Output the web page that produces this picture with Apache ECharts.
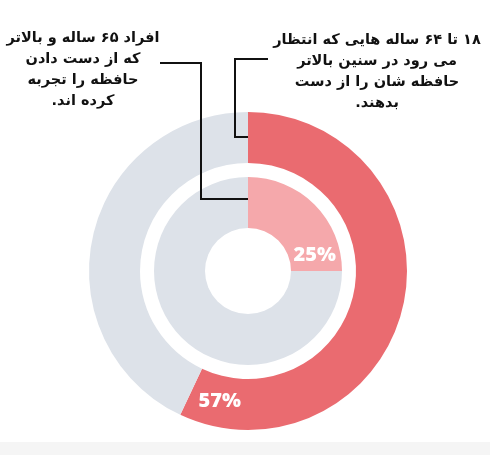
<!DOCTYPE html>
<html>
<head>
<meta charset="utf-8">
<script src="https://cdn.jsdelivr.net/npm/echarts@6/dist/echarts.min.js"></script>
<style>
  html, body { margin: 0; padding: 0; background: #fff; }
  #chart { width: 490px; height: 455px; }
</style>
</head>
<body>
<div id="chart" dir="rtl"></div>
<script>
// outer ring: 18-64 year olds expecting memory loss, inner ring: 65+ who experienced it
const outerLabels = ['۱۸ تا ۶۴ ساله', 'سایر'];
const outerValues = [57, 43];
const innerLabels = ['۶۵ ساله و بالاتر', 'سایر'];
const innerValues = [25, 75];

const rightNote = [
  '۱۸ تا ۶۴ ساله هایی که انتظار',
  'می رود در سنین بالاتر',
  'حافظه شان را از دست',
  'بدهند.'
];
const leftNote = [
  'افراد ۶۵ ساله و بالاتر',
  'که از دست دادن',
  'حافظه را تجربه',
  'کرده اند.'
];

const cx = 248, cy = 271;
const outerR = [108, 159];
const innerR = [43, 94];
const RED = '#ea6b70', PINK = '#f5a8ab', GRAY = '#dde2e9';
const noteFont = 'bold 14.5px "DejaVu Sans", sans-serif';

const chart = echarts.init(document.getElementById('chart'));

// percentage label placed a little before the end of the coloured slice
function pctLabel(values, r) {
  const total = values.reduce((a, b) => a + b, 0);
  const share = values[0] / total;
  const a = (share * 360 - 13) * Math.PI / 180;
  const rm = (r[0] + r[1]) / 2;
  return {
    type: 'text',
    x: cx + rm * Math.sin(a),
    y: cy - rm * Math.cos(a),
    style: {
      text: Math.round(share * 100) + '%',
      fill: '#fff',
      font: '800 20px "Open Sans", sans-serif',
      align: 'center',
      verticalAlign: 'middle'
    },
    z: 10
  };
}

function note(lines, x, y) {
  return lines.map((t, i) => ({
    type: 'text',
    x: x,
    y: y + i * 21,
    style: {
      text: t,
      fill: '#111',
      font: noteFont,
      align: 'center',
      verticalAlign: 'middle'
    }
  }));
}

const lineStyle = { stroke: '#111', lineWidth: 2, fill: null };

const option = {
  backgroundColor: '#fff',
  animation: false,
  series: [
    {
      type: 'pie',
      center: [cx, cy],
      radius: outerR,
      startAngle: 90,
      clockwise: true,
      silent: true,
      label: { show: false },
      labelLine: { show: false },
      data: outerValues.map((v, i) => ({
        name: outerLabels[i], value: v,
        itemStyle: { color: i === 0 ? RED : GRAY }
      }))
    },
    {
      type: 'pie',
      center: [cx, cy],
      radius: innerR,
      startAngle: 90,
      clockwise: true,
      silent: true,
      label: { show: false },
      labelLine: { show: false },
      data: innerValues.map((v, i) => ({
        name: innerLabels[i], value: v,
        itemStyle: { color: i === 0 ? PINK : GRAY }
      }))
    }
  ],
  graphic: [
    {
      type: 'rect',
      shape: { x: 0, y: 442, width: 490, height: 13 },
      style: { fill: '#f5f5f5' }
    },
    {
      type: 'polyline',
      shape: { points: [[160, 63], [201, 63], [201, 199], [cx, 199]] },
      style: lineStyle,
      z: 5
    },
    {
      type: 'polyline',
      shape: { points: [[268, 59], [235, 59], [235, 137], [cx, 137]] },
      style: lineStyle,
      z: 5
    },
    ...note(leftNote, 83, 38),
    ...note(rightNote, 377, 40),
    pctLabel(outerValues, outerR),
    pctLabel(innerValues, innerR)
  ]
};

chart.setOption(option);
</script>
</body>
</html>
